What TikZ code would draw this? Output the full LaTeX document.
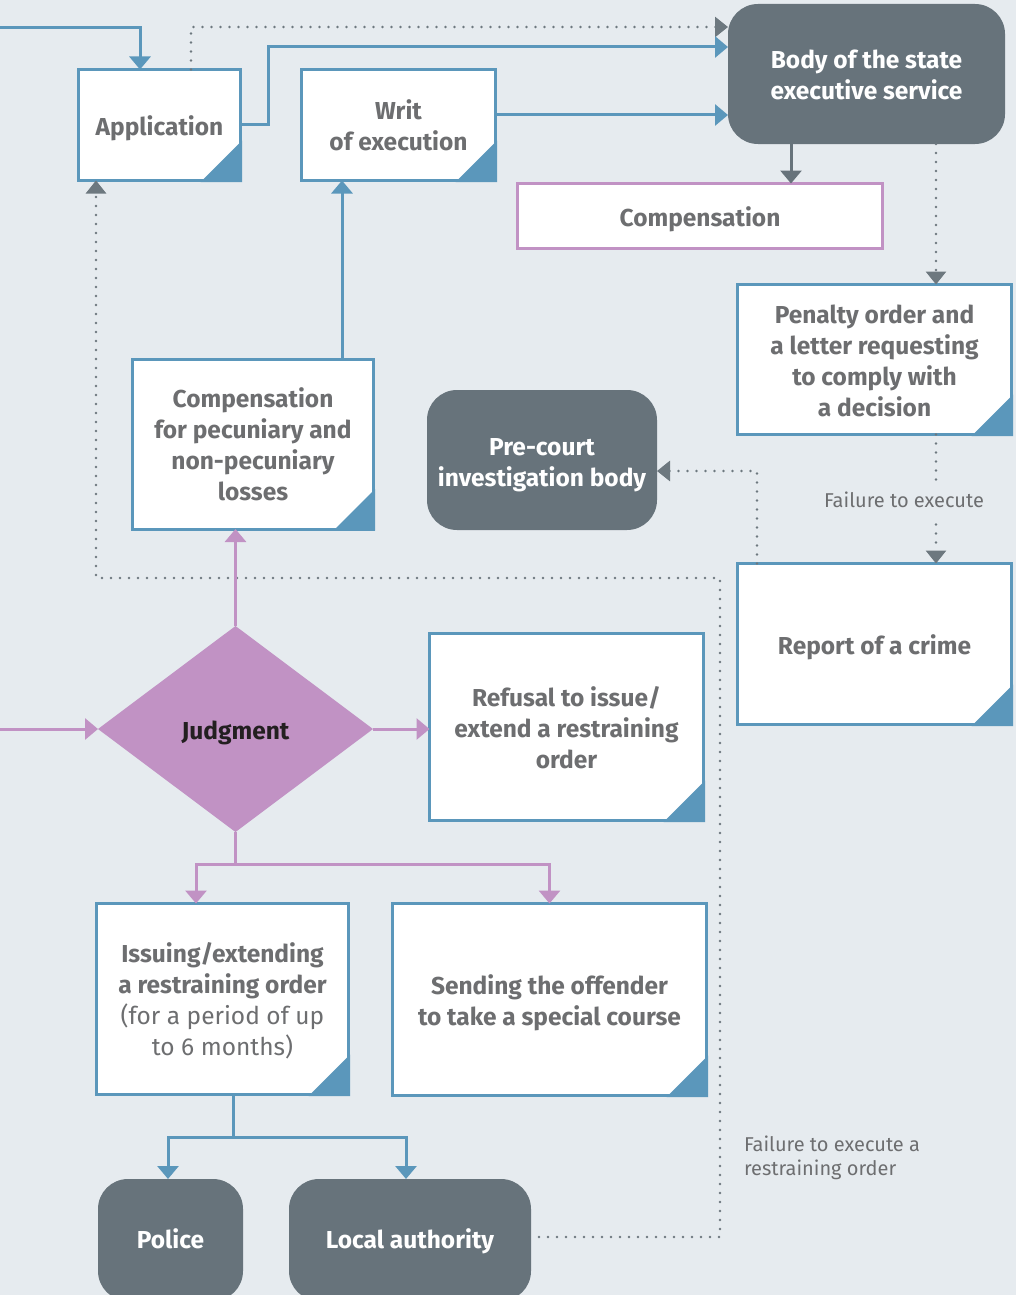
\documentclass[tikz,border=0pt]{standalone}
\usepackage{fontspec}
\setmainfont{Fira Sans}
\usetikzlibrary{arrows.meta,shapes.geometric}

\definecolor{bgc}{HTML}{E6EBEF}
\definecolor{blu}{HTML}{5B97BB}
\definecolor{pur}{HTML}{C192C4}
\definecolor{drk}{HTML}{67737B}
\definecolor{txt}{HTML}{6D6E70}
\definecolor{dotc}{HTML}{6D787F}
\definecolor{ink}{HTML}{231F20}

\tikzset{
  every node/.style={outer sep=0pt, inner sep=0pt},
  % places the last text baseline #1/2 below the node centre
  basept/.style={text height=#1, text depth=0pt},
  boxtxt/.style={font=\bfseries\fontsize{24.5}{31}\selectfont, text=txt, align=center},
  docbox/.style={boxtxt, draw=blu, fill=white, line width=3pt},
  purbox/.style={boxtxt, draw=pur, fill=white, line width=3pt},
  darkbox/.style={font=\bfseries\fontsize{24.5}{31}\selectfont, text=white, align=center,
                  fill=drk, rounded corners=30pt},
  lbl/.style={font=\fontsize{20}{24}\selectfont, text=txt, align=left},
  tipb/.style={-{Triangle[width=21pt,length=13pt]}},
  blueline/.style={draw=blu, line width=3pt, tipb},
  purline/.style={draw=pur, line width=3pt, tipb},
  dotline/.style={draw=dotc, line width=2.9pt, line cap=round,
                  dash pattern=on 0pt off 9pt, -{Triangle[width=20pt,length=13pt]}},
  plainblue/.style={draw=blu, line width=3pt},
}

% folded corner mark at the lower right of a document box
\newcommand{\foldmark}[1]{%
  \fill[blu] ([xshift=-40pt,yshift=-1.5pt]#1.south east) -- ([xshift=1.5pt,yshift=-1.5pt]#1.south east)
     -- ([xshift=1.5pt,yshift=40pt]#1.south east) -- cycle;}

\begin{document}
\begin{tikzpicture}[x=1pt,y=-1pt]
  \clip (0,0) rectangle (1016,1295);
  \fill[bgc] (0,0) rectangle (1016,1295);

  % boxes
  \node[docbox, basept=21pt, minimum width=162pt, minimum height=111pt] (app) at (159.5,125) {Application};
  \node[docbox, basept=51pt, minimum width=194pt, minimum height=111pt] (writ) at (398.5,125) {Writ\\of execution};
  \node[darkbox, basept=51pt, minimum width=277pt, minimum height=140pt] (body) at (866.5,74) {Body of the state\\executive service};
  \node[purbox, basept=21pt, minimum width=365pt, minimum height=65pt] (comp) at (700,216) {Compensation};
  \node[docbox, basept=114pt, minimum width=274pt, minimum height=150pt] (pen) at (874.5,359.5)
       {Penalty order and\\a letter requesting\\to comply with\\a decision};
  \node[darkbox, basept=53pt, minimum width=230pt, minimum height=140pt] (pre) at (542,460) {Pre-court\\investigation body};
  \node[docbox, basept=113pt, minimum width=241pt, minimum height=170pt] (pec) at (253,444)
       {Compensation\\for pecuniary and\\non-pecuniary\\losses};
  \node[docbox, basept=21pt, minimum width=274pt, minimum height=161pt] (rep) at (874.5,644) {Report of a crime};
  \node[diamond, basept=21pt, fill=pur, minimum width=275pt, minimum height=206pt, text=ink,
        font=\bfseries\fontsize{24.5}{31}\selectfont] (judg) at (235.5,729) {Judgment};
  \node[docbox, basept=83pt, minimum width=274pt, minimum height=187pt] (ref) at (566.5,727)
       {Refusal to issue/\\extend a restraining\\order};
  \node[docbox, basept=113pt, minimum width=252pt, minimum height=191pt] (iss) at (222.5,999)
       {Issuing/extending\\a restraining order\\{\mdseries (for a period of up}\\{\mdseries to 6 months)}};
  \node[docbox, basept=52pt, minimum width=314pt, minimum height=192pt] (snd) at (549.5,999.5)
       {Sending the offender\\to take a special course};
  \node[darkbox, basept=17pt, minimum width=145pt, minimum height=122pt] (pol) at (170.5,1240) {Police};
  \node[darkbox, basept=17pt, minimum width=242pt, minimum height=122pt] (loc) at (410,1240) {Local authority};

  \foreach \b in {app,writ,pen,pec,rep,ref,iss,snd} {\foldmark{\b}}

  % entry and execution flows
  \coordinate (in1) at (0,28);
  \draw[blueline] (in1) -| ([xshift=-19.5pt]app.north);
  \draw[dotline] ([xshift=31.5pt]app.north) |- ([yshift=47pt]body.west);
  \draw[blueline] (app.east) -- ++(28,0) |- ([yshift=27pt]body.west);
  \draw[blueline] ([yshift=10pt]writ.east) -- ([yshift=10pt]writ.east -| body.west);
  \draw[draw=drk, line width=3pt, -{Triangle[width=21pt,length=13pt]}]
       ([xshift=-75.5pt]body.south) -- ([xshift=-75.5pt]body.south |- comp.north);
  \draw[dotline] ([xshift=69.5pt]body.south) -- ([xshift=69.5pt]body.south |- pen.north);

  % failure to execute
  \draw[dotline] ([xshift=61.5pt]pen.south) -- ([xshift=61.5pt]pen.south |- rep.north);
  \node[lbl, fill=bgc, inner xsep=2pt, inner ysep=9pt] (fail1) at (904,500) {Failure to execute};
  \draw[dotline] ([xshift=-117.5pt]rep.north) |- ([yshift=-11pt]pre.east);

  % compensation to writ
  \draw[blueline] ([xshift=89pt]pec.north) -- ([xshift=89pt]pec.north |- writ.south);

  % local authority back to application
  \coordinate (bend) at (720,578);
  \draw[dotline] ([xshift=8pt,yshift=3pt]loc.east) -| (bend) -| ([xshift=-63.5pt]app.south);
  \node[lbl, anchor=north west] (fail2) at (744,1136) {Failure to execute a\\restraining order};

  % judgment flows
  \coordinate (in2) at (0,729);
  \draw[purline] (in2) -- (in2 -| judg.west);
  \draw[purline] (judg.north) -- (judg.north |- pec.south);
  \draw[purline] (judg.east) -- (judg.east -| ref.west);
  \draw[draw=pur, line width=3pt] (judg.south) -- ++(0,32) coordinate (js);
  \draw[purline] (js) -| ([xshift=-26.5pt]iss.north);
  \draw[purline] (js) -| (snd.north);

  % restraining order to police and local authority
  \draw[plainblue] ([xshift=10.5pt]iss.south) -- ++(0,43) coordinate (is);
  \draw[blueline] (is) -| ([xshift=-2.5pt]pol.north);
  \draw[blueline] (is) -| ([xshift=-4pt]loc.north);
\end{tikzpicture}
\end{document}
